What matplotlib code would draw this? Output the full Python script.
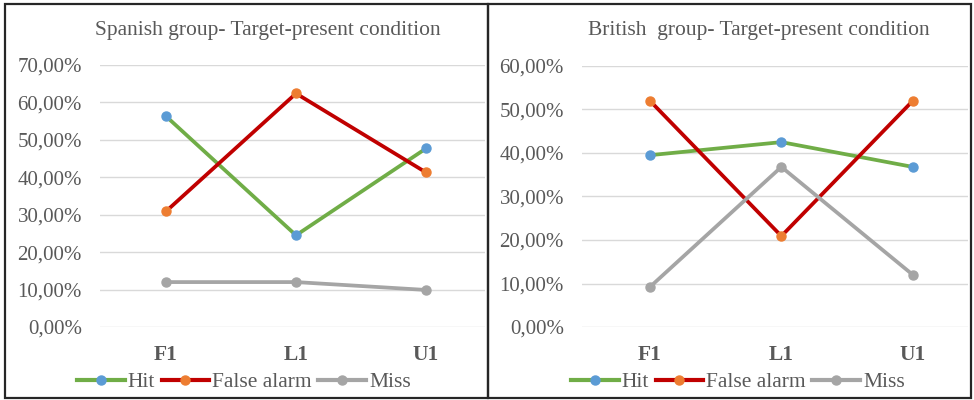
import matplotlib
matplotlib.use("Agg")
import matplotlib.pyplot as plt
from matplotlib.lines import Line2D
from matplotlib.patches import Rectangle
from matplotlib.ticker import FuncFormatter, MultipleLocator

plt.rcParams['font.family'] = ['Liberation Serif', 'DejaVu Serif']

categories = ["F1", "L1", "U1"]
series_names = ["Hit", "False alarm", "Miss"]

spanish_hit = [0.563, 0.245, 0.477]
spanish_false_alarm = [0.309, 0.624, 0.413]
spanish_miss = [0.120, 0.120, 0.099]

british_hit = [0.395, 0.425, 0.368]
british_false_alarm = [0.520, 0.209, 0.520]
british_miss = [0.092, 0.368, 0.120]

line_colors = ["#70AD47", "#C00000", "#A5A5A5"]
marker_colors = ["#5B9BD5", "#ED7D31", "#A5A5A5"]
text_color = "#595959"

W, H = 974, 400
fig = plt.figure(figsize=(W / 100, H / 100), dpi=100)


def px_axes(x0, x1, y_top, y_bot):
    return fig.add_axes([x0 / W, 1 - y_bot / H, (x1 - x0) / W, (y_bot - y_top) / H])


def pct(v, pos):
    return f"{v * 100:.2f}%".replace(".", ",")


def draw_panel(ax, title, series, ymax, xlim, title_x, panel_cx):
    xs = range(len(categories))
    for vals, lc, mc in zip(series, line_colors, marker_colors):
        ax.plot(xs, vals, color=lc, lw=2.7, marker="o", ms=6.5,
                markerfacecolor=mc, markeredgecolor=mc, zorder=3)
    ax.set_xlim(*xlim)
    ax.set_ylim(0, ymax)
    ax.yaxis.set_major_locator(MultipleLocator(0.1))
    ax.yaxis.set_major_formatter(FuncFormatter(pct))
    ax.grid(axis="y", color="#D9D9D9", lw=1)
    ax.set_axisbelow(True)
    for s in ax.spines.values():
        s.set_visible(False)
    ax.set_xticks(list(xs))
    ax.set_xticklabels(categories, fontsize=15.5, color=text_color, fontweight="bold")
    ax.tick_params(axis="both", length=0, labelcolor=text_color)
    ax.tick_params(axis="y", labelsize=15, pad=13)
    ax.tick_params(axis="x", pad=13)
    fig.text(title_x / W, 1 - 31 / H, title, ha="center", va="center",
             fontsize=15.5, color=text_color)
    handles = [Line2D([], [], color=lc, lw=3, marker="o", ms=6.5,
                      markerfacecolor=mc, markeredgecolor=mc)
               for lc, mc in zip(line_colors, marker_colors)]
    ax.legend(handles, series_names, loc="center",
              bbox_to_anchor=(panel_cx / W, 1 - 382 / H),
              bbox_transform=fig.transFigure,
              ncol=3, frameon=False, fontsize=15.5, handlelength=2.2,
              handletextpad=0.15, columnspacing=0.3, labelcolor=text_color,
              borderpad=0)


ax1 = px_axes(100, 485, 65, 327)
draw_panel(ax1, "Spanish group- Target-present condition",
           [spanish_hit, spanish_false_alarm, spanish_miss], 0.7,
           (-0.508, 2.454), 268, 244)

ax2 = px_axes(582, 968, 66, 327)
draw_panel(ax2, "British  group- Target-present condition",
           [british_hit, british_false_alarm, british_miss], 0.6,
           (-0.517, 2.42), 759, 738)

# panel frames
for x0, x1 in [(5, 488), (488, 971)]:
    fig.add_artist(Rectangle((x0 / W, 1 - 398 / H), (x1 - x0) / W, 394 / H,
                             transform=fig.transFigure, fill=False,
                             edgecolor="#262626", lw=1.6))

fig.savefig("out.png", dpi=100)
